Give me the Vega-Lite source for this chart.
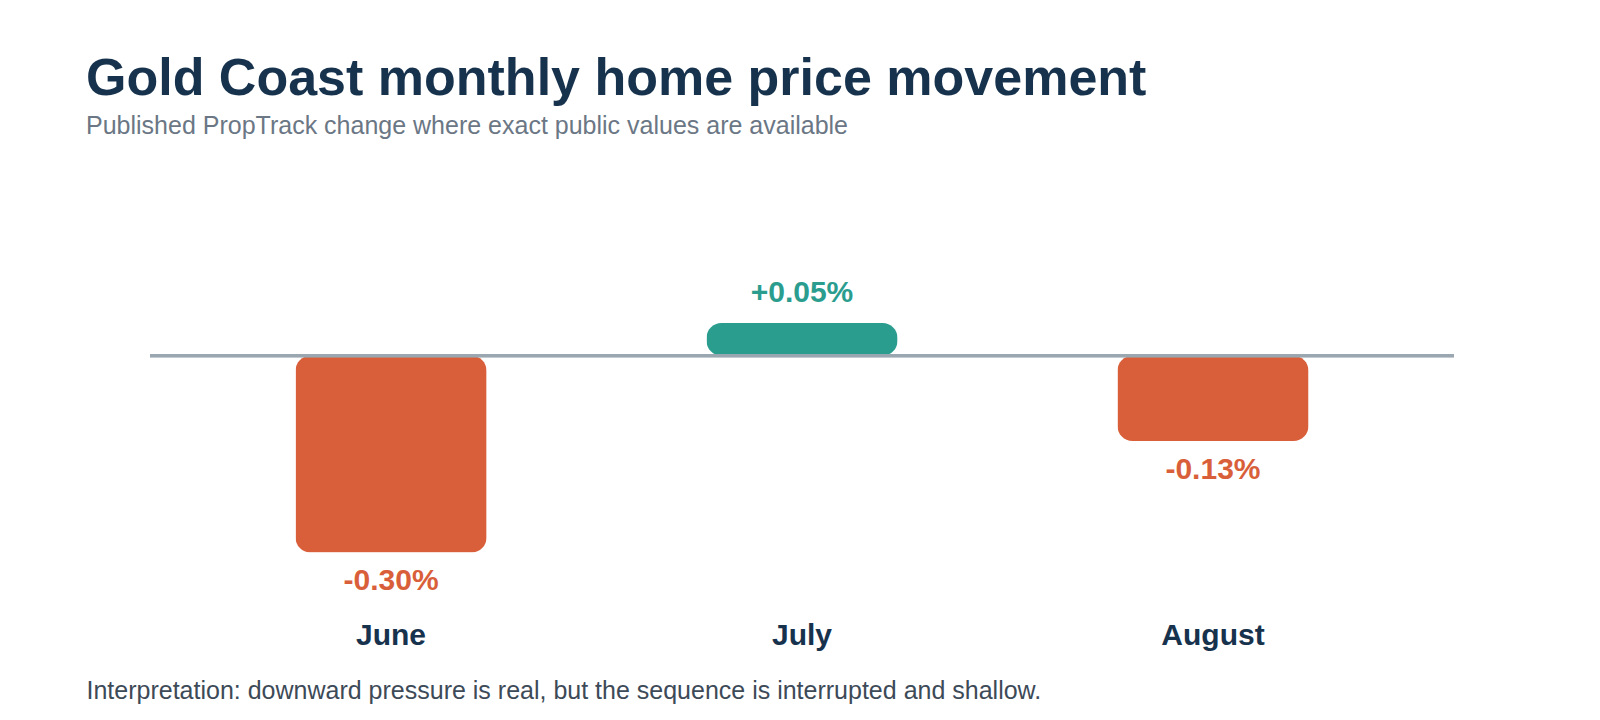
{
  "$schema": "https://vega.github.io/schema/vega-lite/v6.json",
  "description": "Gold Coast monthly home price movement, diverging bars.",
  "width": 1304,
  "height": 426,
  "autosize": {"type": "none"},
  "padding": {"left": 150, "top": 192, "right": 146, "bottom": 102},
  "background": "white",
  "config": {
    "view": {"stroke": null},
    "font": "Liberation Sans"
  },
  "title": {
    "text": "Gold Coast monthly home price movement",
    "subtitle": "Published PropTrack change where exact public values are available",
    "anchor": "start",
    "dx": 0,
    "offset": 52,
    "font": "Liberation Sans",
    "fontSize": 52,
    "fontWeight": "bold",
    "color": "#17324d",
    "subtitleFont": "Liberation Sans",
    "subtitleFontSize": 25,
    "subtitleColor": "#6b7785",
    "subtitlePadding": 8
  },
  "data": {
    "values": [
      {"month": "June", "change": -0.30, "label": "-0.30%"},
      {"month": "July", "change": 0.05, "label": "+0.05%"},
      {"month": "August", "change": -0.13, "label": "-0.13%"}
    ]
  },
  "encoding": {
    "x": {
      "field": "month",
      "type": "nominal",
      "sort": null,
      "scale": {"paddingInner": 0.535, "paddingOuter": 0.354},
      "axis": {
        "title": "Interpretation: downward pressure is real, but the sequence is interrupted and shallow.",
        "titleFont": "Liberation Sans",
        "titleFontSize": 25,
        "titleFontWeight": "normal",
        "titleColor": "#3d4a57",
        "titleAlign": "left",
        "titleAnchor": "start",
        "titleBaseline": "alphabetic",
        "titleX": -64,
        "titleY": 80,
        "domain": false,
        "ticks": false,
        "labelAngle": 0,
        "labelPadding": 2,
        "labelBaseline": "top",
        "labelFont": "Liberation Sans",
        "labelFontSize": 30,
        "labelFontWeight": "bold",
        "labelColor": "#17324d"
      }
    }
  },
  "layer": [
    {
      "mark": {"type": "bar", "cornerRadius": 15},
      "encoding": {
        "y": {
          "field": "change",
          "type": "quantitative",
          "scale": {"domain": [-0.4, 0.25], "nice": false, "zero": false},
          "axis": null
        },
        "color": {
          "condition": {"test": "datum.change < 0", "value": "#d95f3a"},
          "value": "#2a9d8f"
        }
      }
    },
    {
      "mark": {"type": "rule", "color": "#9aa7b1", "strokeWidth": 3},
      "encoding": {
        "y": {"datum": 0, "type": "quantitative"},
        "x": {}
      }
    },
    {
      "transform": [{"filter": "datum.change < 0"}],
      "mark": {
        "type": "text",
        "baseline": "middle",
        "dy": 29,
        "fontSize": 30,
        "fontWeight": "bold",
        "color": "#d95f3a"
      },
      "encoding": {
        "y": {"field": "change", "type": "quantitative"},
        "text": {"field": "label"}
      }
    },
    {
      "transform": [{"filter": "datum.change >= 0"}],
      "mark": {
        "type": "text",
        "baseline": "middle",
        "dy": -30,
        "fontSize": 30,
        "fontWeight": "bold",
        "color": "#2a9d8f"
      },
      "encoding": {
        "y": {"field": "change", "type": "quantitative"},
        "text": {"field": "label"}
      }
    }
  ]
}
